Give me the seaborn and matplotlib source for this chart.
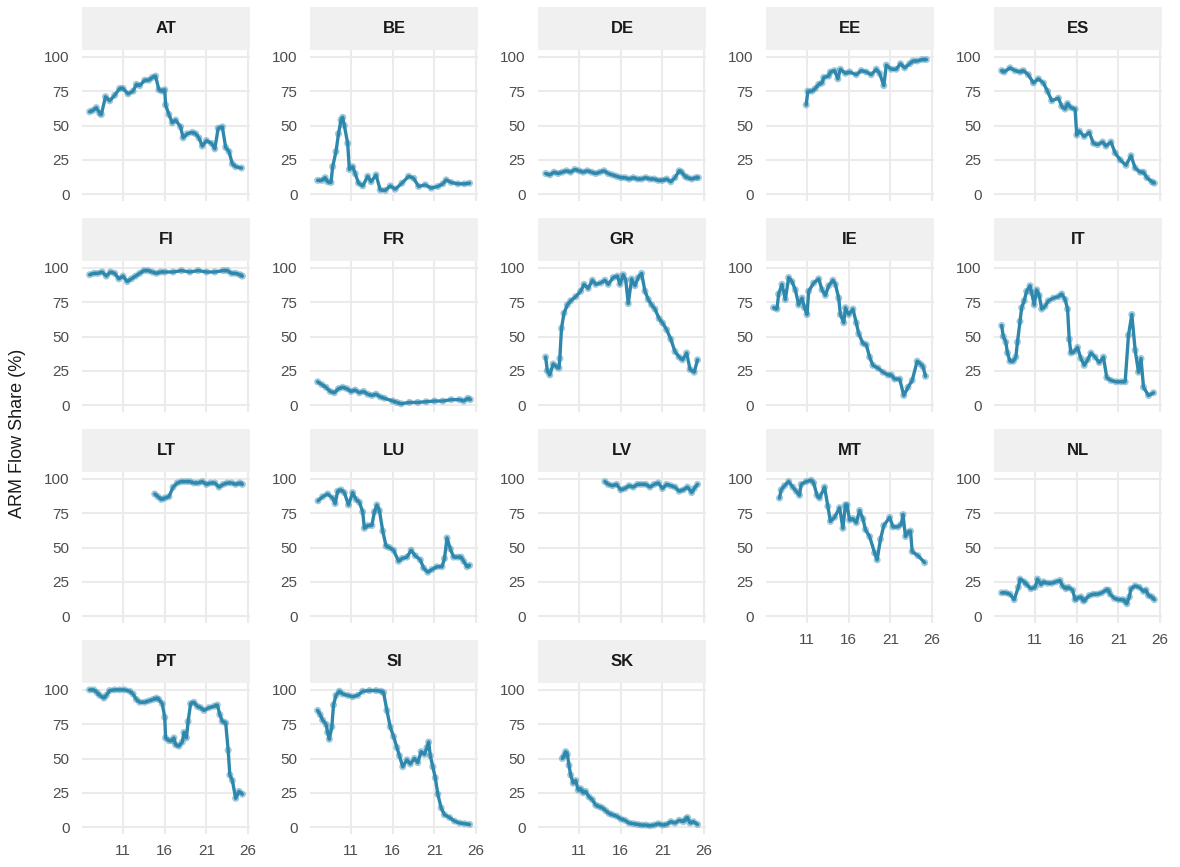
import numpy as np
import pandas as pd
import matplotlib
matplotlib.use("Agg")
import matplotlib.pyplot as plt
import seaborn as sns
from matplotlib.patches import Rectangle

# ---------------------------------------------------------------------------
# ARM flow share (%) by country; year axis expressed as two-digit year (20xx)
# ---------------------------------------------------------------------------
COUNTRIES = ["AT", "BE", "DE", "EE", "ES",
             "FI", "FR", "GR", "IE", "IT",
             "LT", "LU", "LV", "MT", "NL",
             "PT", "SI", "SK"]

AT_year = [7.0, 7.4, 7.8, 8.2, 8.4, 8.9, 9.4, 10.0, 10.6, 11.0, 11.6, 12.2, 12.6, 13.0,
           13.6, 14.1, 14.5, 14.9, 15.3, 15.7, 16.0, 16.1, 16.5, 16.9, 17.3, 17.9, 18.2,
           18.7, 19.3, 19.7, 20.1, 20.5, 21.0, 21.6, 22.0, 22.4, 22.9, 23.3, 23.7, 24.1,
           24.5, 25.2]
AT_share = [60, 61, 63, 59, 58, 71, 68, 72, 77, 77, 73, 75, 80, 79,
            83, 83, 85, 86, 76, 75, 76, 65, 58, 52, 54, 49, 41,
            44, 45, 44, 41, 35, 39, 37, 33, 48, 49, 34, 31, 22,
            20, 19]

BE_year = [7.0, 7.5, 7.9, 8.2, 8.6, 8.8, 9.2, 9.5, 9.8, 10.0, 10.2, 10.6, 10.8, 11.2,
           11.5, 11.9, 12.4, 13.0, 13.4, 14.0, 14.5, 15.1, 15.7, 16.3, 17.1, 17.9, 18.5,
           19.1, 19.9, 20.6, 21.4, 22.0, 22.4, 23.0, 23.8, 24.6, 25.2]
BE_share = [10, 10, 12, 9, 8.5, 20, 31, 44, 54, 56, 50, 37, 18, 20,
            15, 8, 6, 13, 9, 14, 3, 2.7, 6, 3.6, 8, 13, 11.6,
            5.6, 6.8, 4.4, 5.6, 7.5, 10.4, 8.5, 7.5, 7.5, 8]

DE_year = [7.0, 7.5, 8.0, 8.5, 9.0, 9.5, 10.0, 10.5, 11.0, 11.5, 12.0, 12.5, 13.0, 13.5,
           14.0, 14.5, 15.0, 15.5, 16.0, 16.5, 17.0, 17.5, 18.0, 18.5, 19.0, 19.5, 20.0,
           20.5, 21.0, 21.5, 22.0, 22.5, 23.0, 23.3, 23.7, 24.0, 24.5, 25.0, 25.3]
DE_share = [15, 14, 16, 15, 16, 17, 16, 18, 17, 16, 17, 16, 15, 16,
            17, 15, 14, 13, 12, 12, 11, 12, 11, 11, 12, 11, 11,
            10, 10, 11, 9, 12, 17, 16, 13, 12, 11, 12, 12]

EE_year = [10.9, 11.1, 11.6, 12.0, 12.4, 12.8, 13.0, 13.6, 13.8, 14.3, 14.7, 15.0, 15.6,
           16.1, 16.9, 17.5, 18.1, 18.7, 19.3, 19.7, 20.2, 20.5, 21.1, 21.7, 22.2, 22.7,
           23.3, 23.7, 24.2, 24.8, 25.3]
EE_share = [65, 75, 75, 77, 80, 81, 85, 86, 89, 90, 84, 91, 88,
            89, 87, 90, 89, 87, 91, 88, 79, 94, 91, 91, 95, 92,
            95, 97, 97, 98, 98]

ES_year = [7.0, 7.3, 8.0, 8.6, 9.2, 9.6, 10.2, 10.8, 11.4, 12.0, 12.5, 13.0, 13.8, 14.2,
           14.6, 14.9, 15.3, 15.8, 16.0, 16.3, 16.9, 17.5, 18.0, 18.5, 19.1, 19.5, 20.1,
           20.6, 21.2, 21.9, 22.5, 23.0, 23.6, 24.0, 24.4, 25.0, 25.3]
ES_share = [90, 89, 92, 90, 89, 90, 87, 81, 84, 81, 75, 68, 70, 64,
            62, 66, 63, 62, 43, 46, 42, 45, 37, 36, 38, 35, 38,
            30, 25, 21, 28, 19, 16, 16, 12, 9, 8]

FI_year = [7.0, 7.5, 8.0, 8.5, 9.0, 9.5, 10.0, 10.5, 11.0, 11.5, 12.0, 12.5, 13.0, 13.5,
           14.0, 14.5, 15.0, 15.5, 16.0, 17.0, 18.0, 19.0, 20.0, 21.0, 22.0, 23.0, 23.5,
           24.0, 24.5, 25.0, 25.3]
FI_share = [95, 96, 96, 97, 94, 97, 96, 92, 94, 90, 92, 94, 96, 98,
            98, 97, 96, 97, 97, 97, 98, 97, 98, 97, 97, 98, 98,
            96, 96, 95, 94]

FR_year = [7.0, 7.5, 8.0, 8.5, 9.0, 9.5, 10.0, 10.5, 11.0, 11.5, 12.0, 12.5, 13.0, 13.5,
           14.0, 14.5, 15.0, 16.0, 16.5, 17.0, 18.0, 19.0, 20.0, 21.0, 22.0, 23.0, 24.0,
           24.5, 25.0, 25.3]
FR_share = [17, 15, 13, 10, 9, 12, 13, 12, 10, 11, 9, 10, 8, 7,
            8, 6, 5, 3, 2, 1, 2, 2, 2.5, 3, 3, 4, 4,
            3, 5, 4]

GR_year = [7.0, 7.2, 7.5, 7.9, 8.3, 8.6, 8.7, 8.9, 9.2, 9.6, 10.0, 10.6, 11.2, 11.6, 12.1,
           12.6, 13.0, 13.6, 14.1, 14.5, 15.1, 15.6, 15.9, 16.3, 16.6, 16.9, 17.3, 17.7,
           18.1, 18.5, 18.9, 19.3, 19.7, 20.1, 20.6, 21.0, 21.5, 22.0, 22.5, 23.0, 23.4,
           23.9, 24.3, 24.8, 25.2]
GR_share = [35, 25, 22, 30, 28, 27, 34, 56, 67, 73, 76, 79, 83, 88, 85,
            91, 88, 89, 91, 88, 93, 94, 88, 95, 91, 74, 92, 87,
            93, 96, 83, 77, 73, 70, 63, 60, 55, 48, 39, 35, 33,
            38, 26, 24, 33]

IE_year = [7.0, 7.4, 7.6, 8.0, 8.4, 8.8, 9.2, 9.6, 10.0, 10.4, 10.7, 11.0, 11.2, 11.8,
           12.4, 12.8, 13.2, 13.6, 14.1, 14.4, 14.8, 15.0, 15.4, 15.6, 16.0, 16.5, 16.9,
           17.2, 17.7, 18.1, 18.5, 18.9, 19.5, 20.1, 20.7, 21.1, 21.5, 22.1, 22.6, 23.1,
           23.6, 24.2, 24.6, 24.9, 25.2]
IE_share = [71, 70, 81, 88, 77, 93, 90, 84, 73, 78, 71, 66, 83, 89,
            92, 84, 80, 87, 91, 88, 78, 66, 60, 71, 66, 70, 60,
            52, 45, 44, 35, 29, 27, 24, 22, 22, 19, 19, 7, 13,
            18, 32, 30, 28, 21]

IT_year = [7.0, 7.2, 7.5, 7.7, 8.0, 8.4, 8.7, 8.9, 9.2, 9.4, 9.7, 10.0, 10.4, 10.6, 10.9,
           11.2, 11.5, 11.8, 12.2, 12.6, 13.2, 13.8, 14.2, 14.6, 14.9, 15.1, 15.3, 15.7,
           16.1, 16.5, 16.9, 17.3, 17.7, 18.2, 18.7, 19.2, 19.6, 20.1, 20.7, 21.3, 21.8,
           22.2, 22.6, 23.0, 23.4, 23.7, 24.0, 24.6, 25.2]
IT_share = [58, 50, 46, 38, 32, 32, 35, 46, 61, 71, 76, 83, 87, 82, 73,
            84, 80, 70, 72, 76, 78, 79, 81, 77, 70, 48, 38, 39,
            42, 34, 29, 33, 38, 35, 31, 35, 20, 18, 17, 17, 17,
            51, 66, 40, 24, 34, 13, 7, 9]

LT_year = [14.8, 15.2, 15.6, 16.0, 16.5, 17.0, 17.5, 18.0, 18.5, 19.0, 19.5, 20.0, 20.5,
           21.0, 21.5, 22.0, 22.5, 23.0, 23.5, 24.0, 24.5, 25.0, 25.3]
LT_share = [89, 87, 85, 86, 87, 94, 97, 98, 98, 98, 97, 97, 98,
            96, 97, 97, 94, 96, 97, 97, 96, 97, 96]

LU_year = [7.05, 7.6, 8.2, 8.8, 9.1, 9.4, 9.8, 10.2, 10.7, 11.2, 11.6, 12.0, 12.4, 12.6,
           13.0, 13.5, 13.8, 14.1, 14.4, 14.8, 15.2, 15.6, 16.1, 16.7, 17.1, 17.7, 18.2,
           18.7, 19.3, 19.7, 20.2, 20.7, 21.3, 21.9, 22.2, 22.5, 22.9, 23.3, 23.8, 24.2,
           24.5, 24.9, 25.2]
LU_share = [84, 87, 89, 86, 82, 91, 92, 90, 81, 90, 85, 83, 76, 64,
            66, 66, 76, 81, 77, 62, 51, 50, 48, 40, 42, 43, 48,
            44, 41, 35, 32, 34, 36, 36, 42, 57, 49, 43, 43, 43,
            40, 36, 37]

LV_year = [14.1, 14.5, 15.0, 15.5, 16.0, 16.5, 17.0, 17.5, 18.0, 18.5, 19.0, 19.5, 20.0,
           20.5, 21.0, 21.5, 22.0, 22.5, 23.0, 23.5, 24.0, 24.5, 24.8, 25.2]
LV_share = [98, 96, 95, 96, 92, 93, 95, 94, 96, 96, 96, 94, 96,
            97, 93, 96, 95, 94, 91, 92, 94, 90, 93, 96]

MT_year = [7.7, 7.9, 8.3, 8.8, 9.3, 9.7, 10.1, 10.3, 10.9, 11.5, 11.8, 12.2, 12.5, 13.1,
           13.5, 13.8, 14.3, 14.9, 15.3, 15.6, 15.8, 16.1, 16.5, 16.9, 17.3, 17.7, 18.0,
           18.5, 19.1, 19.4, 19.8, 20.2, 20.9, 21.3, 21.9, 22.3, 22.5, 22.8, 23.1, 23.4,
           23.6, 24.3, 25.1]
MT_share = [86, 92, 95, 98, 94, 91, 88, 96, 98, 99, 97, 88, 86, 94,
            80, 69, 72, 79, 64, 81, 81, 70, 71, 68, 77, 71, 63,
            58, 46, 41, 56, 66, 72, 65, 65, 67, 74, 58, 61, 62,
            47, 44, 39]

NL_year = [7.0, 7.5, 8.0, 8.5, 9.0, 9.2, 9.7, 10.0, 10.5, 11.0, 11.3, 11.7, 12.0, 12.5,
           13.0, 13.5, 14.0, 14.3, 14.7, 15.0, 15.5, 15.8, 16.0, 16.5, 16.8, 17.0, 17.5,
           18.0, 18.5, 19.0, 19.5, 19.8, 20.0, 20.5, 21.0, 21.5, 21.8, 22.0, 22.3, 22.5,
           23.0, 23.5, 24.0, 24.3, 24.6, 25.0, 25.3]
NL_share = [17, 17, 16, 12, 21, 27, 25, 23, 20, 21, 27, 23, 25, 24,
            24, 25, 26, 22, 20, 21, 19, 12, 13, 14, 11, 12, 15,
            16, 16, 17, 19, 19, 16, 13, 12, 12, 11, 9, 14, 20,
            22, 21, 18, 19, 15, 14, 12]

PT_year = [7.0, 7.5, 7.9, 8.2, 8.7, 9.0, 9.4, 10.0, 10.6, 11.2, 11.8, 12.2, 12.6, 13.0,
           13.6, 14.1, 14.6, 15.0, 15.3, 15.7, 16.0, 16.1, 16.5, 16.9, 17.1, 17.3, 17.7,
           18.1, 18.3, 18.6, 18.8, 19.1, 19.5, 19.9, 20.3, 20.7, 21.3, 21.9, 22.3, 22.6,
           22.9, 23.3, 23.6, 23.8, 24.1, 24.5, 24.9, 25.3]
PT_share = [100, 100, 98, 96, 94, 96, 99.5, 100, 100, 100, 99, 97, 93, 91,
            91, 92, 93, 94, 93, 90, 80, 65, 63, 63, 65, 60, 59,
            62, 69, 65, 77, 90, 91, 88, 87, 85, 87, 88, 89, 82,
            77, 76, 56, 38, 34, 21, 26, 24]

SI_year = [7.0, 7.3, 7.6, 8.0, 8.2, 8.4, 8.7, 8.9, 9.2, 9.6, 10.0, 10.6, 11.2, 11.8,
           12.4, 13.2, 14.0, 14.6, 14.9, 15.3, 15.7, 16.1, 16.5, 16.8, 17.2, 17.7, 18.1,
           18.6, 19.0, 19.4, 19.8, 20.1, 20.3, 20.5, 20.8, 21.1, 21.4, 21.8, 22.2, 22.8,
           23.4, 24.0, 24.6, 25.2]
SI_share = [85, 82, 78, 75, 69, 64, 73, 89, 96, 99, 97, 96, 95, 96,
            99, 99.5, 99.5, 99, 98, 85, 73, 66, 58, 52, 44, 49, 46,
            50, 47, 55, 53, 58, 62, 52, 44, 36, 24, 14, 9, 7,
            4.4, 3, 2.5, 2]

SK_year = [9.0, 9.2, 9.4, 9.6, 9.8, 10.0, 10.3, 10.6, 10.9, 11.2, 11.5, 11.8, 12.2, 12.6,
           13.0, 13.4, 13.8, 14.2, 14.6, 15.0, 15.5, 16.0, 16.5, 17.0, 17.5, 18.0, 18.5,
           19.0, 19.5, 20.0, 20.5, 21.0, 21.5, 22.0, 22.5, 23.0, 23.5, 23.8, 24.0, 24.3,
           24.7, 25.2]
SK_share = [50, 52, 55, 53, 45, 38, 32, 34, 27, 28, 25, 26, 22, 20,
            16, 15, 14, 12, 10, 9, 8, 6, 5, 3, 2.5, 2, 1.5,
            1.5, 1, 1.5, 2.5, 1.5, 2, 4, 3, 5, 4, 6, 7, 3,
            4, 2]

X_TICKS = [11, 16, 21, 26]
Y_TICKS = [0, 25, 50, 75, 100]

series = {
    "AT": (AT_year, AT_share), "BE": (BE_year, BE_share), "DE": (DE_year, DE_share),
    "EE": (EE_year, EE_share), "ES": (ES_year, ES_share), "FI": (FI_year, FI_share),
    "FR": (FR_year, FR_share), "GR": (GR_year, GR_share), "IE": (IE_year, IE_share),
    "IT": (IT_year, IT_share), "LT": (LT_year, LT_share), "LU": (LU_year, LU_share),
    "LV": (LV_year, LV_share), "MT": (MT_year, MT_share), "NL": (NL_year, NL_share),
    "PT": (PT_year, PT_share), "SI": (SI_year, SI_share), "SK": (SK_year, SK_share),
}
df = pd.concat(
    [pd.DataFrame({"country": c, "year": series[c][0], "share": series[c][1]})
     for c in COUNTRIES],
    ignore_index=True,
)

# ---------------------------------------------------------------------------
# Styling
# ---------------------------------------------------------------------------
sns.set_theme(style="white")
plt.rcParams["font.family"] = ["Liberation Sans", "DejaVu Sans"]

LINE_COLOR = "#2E88AD"
GRID_COLOR = "#EBEBEB"
STRIP_COLOR = "#F0F0F0"
TICK_COLOR = "#4D4D4D"

W, H = 1180, 867
fig = plt.figure(figsize=(W / 100, H / 100), dpi=100)

NCOL = 5
COL_LEFT0, COL_STEP, PANEL_W = 82, 228, 168
ROW_TOP0, ROW_STEP, PANEL_H = 50, 211, 151
STRIP_H = 43

xmin, xmax = 7.0, 25.3
xpad = 0.05 * (xmax - xmin)

for i, country in enumerate(COUNTRIES):
    r, c = divmod(i, NCOL)
    left = COL_LEFT0 + c * COL_STEP
    top = ROW_TOP0 + r * ROW_STEP
    ax = fig.add_axes([left / W, 1 - (top + PANEL_H) / H, PANEL_W / W, PANEL_H / H])

    sub = df[df["country"] == country]
    sns.lineplot(data=sub, x="year", y="share", ax=ax, color=LINE_COLOR,
                 linewidth=2.4, zorder=3)
    sns.scatterplot(data=sub, x="year", y="share", ax=ax, color=LINE_COLOR,
                    s=26, alpha=0.45, edgecolor="none", zorder=4)

    ax.set_xlim(xmin - xpad, xmax + xpad)
    ax.set_ylim(-5, 105)
    ax.set_xticks(X_TICKS)
    ax.set_yticks(Y_TICKS)
    ax.set_xlabel("")
    ax.set_ylabel("")
    ax.grid(True, color=GRID_COLOR, linewidth=1.5)
    ax.set_axisbelow(True)
    for sp in ax.spines.values():
        sp.set_visible(False)

    # bottom-most panel in each column carries the year labels
    is_bottom = (i + NCOL) >= len(COUNTRIES)
    ax.tick_params(axis="both", length=0, labelsize=11, labelcolor=TICK_COLOR)
    ax.tick_params(axis="y", pad=9)
    ax.tick_params(axis="x", pad=7, labelbottom=is_bottom)
    ax.set_xticklabels([str(t) for t in X_TICKS])

    # facet strip
    strip_frac = STRIP_H / PANEL_H
    ax.add_patch(Rectangle((0, 1), 1, strip_frac, transform=ax.transAxes,
                           facecolor=STRIP_COLOR, edgecolor="none", clip_on=False))
    ax.text(0.5, 1 + strip_frac / 2, country, transform=ax.transAxes,
            ha="center", va="center", fontsize=12, fontweight="bold", color="#1A1A1A")

fig.text(18 / W, 0.5, "ARM Flow Share (%)", rotation=90, ha="center", va="center",
         fontsize=13, color="#1A1A1A")

fig.savefig("out.png", dpi=100, facecolor="white")
